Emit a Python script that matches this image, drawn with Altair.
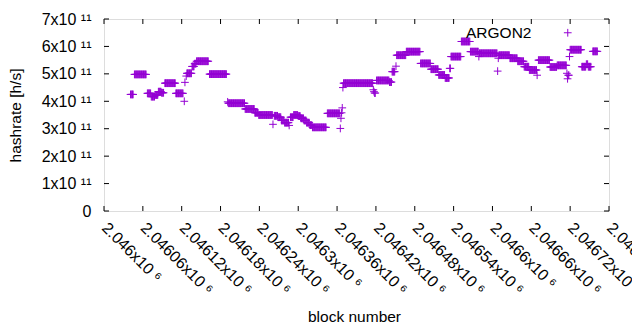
import altair as alt
import pandas as pd

# ---- data ----
BASE = 2046000
series_name = "ARGON2"
# runs of consecutive blocks with the same hashrate estimate (block offsets from BASE, rate in 1e11 h/s)
run_start = [41, 47, 67, 73, 79, 84, 89, 94, 111, 124, 125, 127, 128, 136, 140, 143, 163, 191, 192, 218,
             233, 239, 261, 263, 269, 274, 279, 286, 288, 293, 300, 304, 309, 313, 318, 322, 345, 365, 366, 367,
             368, 369, 370, 416, 417, 418, 421, 441, 445, 451, 452, 467, 489, 505, 517, 527, 534, 536, 552, 566,
             579, 580, 608, 609, 610, 627, 639, 649, 657, 669, 671, 689, 700, 715, 716, 717, 719, 720, 738, 745,
             748, 755]
run_end = [45, 65, 72, 78, 83, 88, 92, 110, 122, 124, 125, 127, 135, 139, 142, 161, 189, 191, 217, 232,
           238, 260, 261, 268, 273, 278, 285, 286, 292, 299, 303, 308, 312, 317, 321, 343, 364, 365, 366, 367,
           368, 369, 415, 416, 417, 419, 440, 444, 449, 451, 466, 488, 504, 516, 526, 533, 535, 551, 565, 578,
           579, 607, 608, 609, 626, 638, 648, 656, 668, 669, 688, 699, 714, 715, 716, 718, 719, 737, 744, 747,
           752, 762]
run_rate = [4.25, 4.98, 4.29, 4.17, 4.23, 4.35, 4.31, 4.66, 4.29, 4.0, 4.69, 4.92, 5.02, 5.27, 5.37, 5.46, 4.99, 3.98, 3.93, 3.72,
            3.58, 3.5, 3.16, 3.47, 3.42, 3.3, 3.22, 3.12, 3.42, 3.5, 3.46, 3.38, 3.3, 3.22, 3.13, 3.05, 3.56, 3.01, 3.38, 3.58,
            3.76, 4.5, 4.66, 4.42, 4.35, 4.3, 4.76, 4.7, 5.08, 5.28, 5.68, 5.81, 5.38, 5.17, 4.96, 4.85, 5.2, 5.63, 6.18, 5.81,
            5.63, 5.75, 5.1, 5.57, 5.68, 5.57, 5.46, 5.26, 5.14, 4.95, 5.5, 5.25, 5.31, 5.02, 4.82, 4.95, 5.63, 5.88, 5.26, 5.35,
            5.26, 5.82]

x_ticks = [2046000, 2046060, 2046120, 2046180, 2046240, 2046300, 2046360,
           2046420, 2046480, 2046540, 2046600, 2046660, 2046720, 2046780]
y_ticks = [0, 1e11, 2e11, 3e11, 4e11, 5e11, 6e11, 7e11]

rows = []
for s, e, v in zip(run_start, run_end, run_rate):
    for b in range(s, e + 1):
        rows.append({"block": BASE + b, "hashrate": v * 1e11, "series": series_name})
df = pd.DataFrame(rows)

# ---- style ----
PURPLE = "#9400D3"
PLUS = "M-1,0H1M0,-1V1"
FONT = "Liberation Sans"
W, H = 505, 192

xscale = alt.Scale(domain=[x_ticks[0], x_ticks[-1]], nice=False, zero=False)
yscale = alt.Scale(domain=[y_ticks[0], y_ticks[-1]], nice=False)

x_axis = alt.Axis(
    values=x_ticks, title="block number", grid=False, ticks=False, tickSize=0, domain=False,
    labelExpr="format(datum.value / 1e6, '.5~f') + 'x10 ⁶'",
    labelAngle=45, labelAlign="left", labelBaseline="middle", labelPadding=14,
    labelOverlap=False, labelFlush=False, labelBound=False,
    labelFontSize=16, labelColor="black", labelFont=FONT,
    titleFontSize=15.5, titleFontWeight="normal", titleColor="black", titleFont=FONT,
    titleX=250, titleY=110, titleAlign="center", titleBaseline="alphabetic",
)
y_axis = alt.Axis(
    values=y_ticks, title="hashrate [h/s]", grid=False, ticks=False, tickSize=0, domain=False,
    labelExpr="datum.value == 0 ? '0' : round(datum.value / 1e11) + 'x10 ¹¹'",
    labelPadding=13, labelOverlap=False, labelFlush=False,
    labelFontSize=16, labelColor="black", labelFont=FONT,
    titleFontSize=15.5, titleFontWeight="normal", titleColor="black", titleFont=FONT,
    titleAngle=-90, titleX=-89, titleY=96, titleAlign="center", titleBaseline="middle",
)

points = alt.Chart(df).mark_point(
    shape=PLUS, filled=False, size=60, strokeWidth=1, opacity=1
).encode(
    x=alt.X("block:Q", scale=xscale, axis=x_axis),
    y=alt.Y("hashrate:Q", scale=yscale, axis=y_axis),
    color=alt.Color(
        "series:N", scale=alt.Scale(range=[PURPLE]),
        legend=alt.Legend(
            title=None, orient="none", legendX=456, legendY=6, padding=0,
            symbolType=PLUS, symbolSize=60, symbolStrokeWidth=1, symbolFillColor="transparent",
            labelAlign="right", labelOffset={"expr": "-44"}, labelFontSize=15.5, labelFont=FONT,
            labelColor="black",
        ),
    ),
)

xt = pd.DataFrame({"block": x_ticks})
yt = pd.DataFrame({"hashrate": y_ticks})
tick_style = dict(color="black", strokeWidth=1)
t_bottom = alt.Chart(xt).mark_rule(**tick_style).encode(
    x=alt.X("block:Q", scale=xscale, axis=x_axis), y=alt.value(H), y2=alt.value(H - 5))
t_top = alt.Chart(xt).mark_rule(**tick_style).encode(
    x=alt.X("block:Q", scale=xscale, axis=x_axis), y=alt.value(0), y2=alt.value(5))
t_left = alt.Chart(yt).mark_rule(**tick_style).encode(
    y=alt.Y("hashrate:Q", scale=yscale, axis=y_axis), x=alt.value(0), x2=alt.value(5))
t_right = alt.Chart(yt).mark_rule(**tick_style).encode(
    y=alt.Y("hashrate:Q", scale=yscale, axis=y_axis), x=alt.value(W), x2=alt.value(W - 5))

chart = alt.layer(points, t_bottom, t_top, t_left, t_right).properties(
    width=W, height=H, autosize="none",
    padding={"left": 96, "top": 11, "right": 23, "bottom": 116},
    background="white",
).configure_view(stroke="black", strokeWidth=1).configure(font=FONT)

chart.save("out.html", embed_options={"renderer": "svg", "actions": False})
